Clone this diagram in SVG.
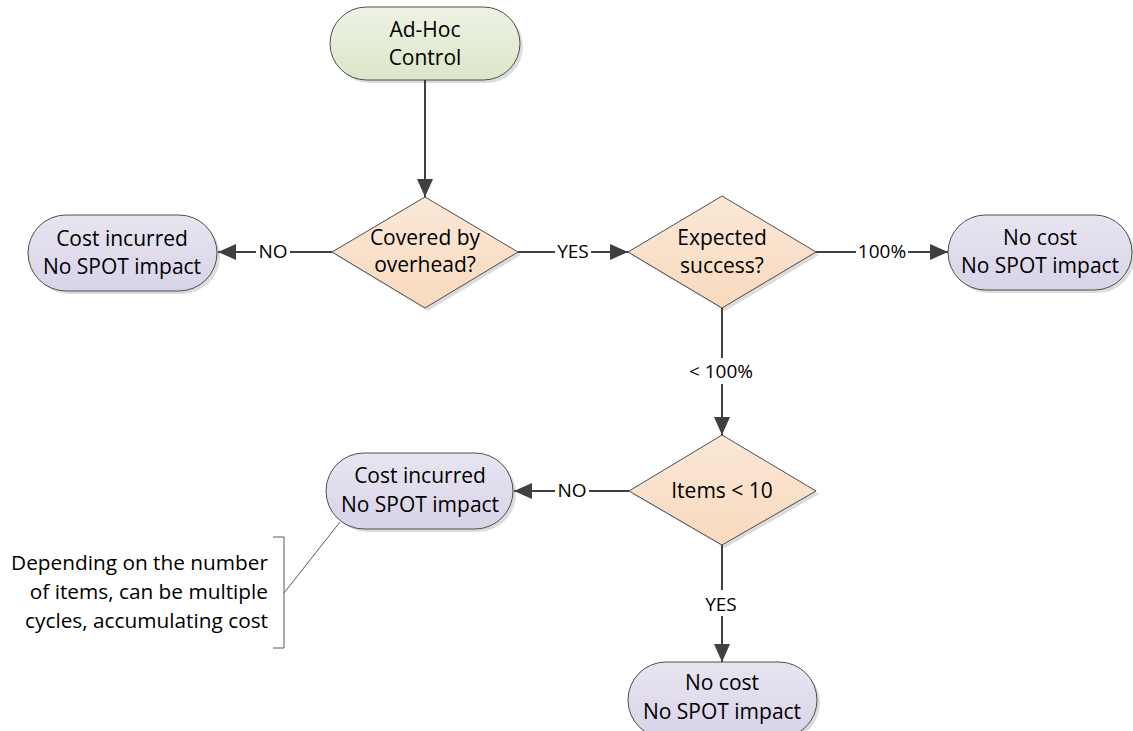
<svg xmlns="http://www.w3.org/2000/svg" width="1133" height="731" viewBox="0 0 1133 731">
<defs>
<linearGradient id="gGreen" x1="0" y1="0" x2="0" y2="1"><stop offset="0" stop-color="#eef3e4"/><stop offset="1" stop-color="#dbe6c9"/></linearGradient>
<linearGradient id="gPeach" x1="0" y1="0" x2="0" y2="1"><stop offset="0" stop-color="#fbe8d8"/><stop offset="1" stop-color="#f8d9bd"/></linearGradient>
<linearGradient id="gPurple" x1="0" y1="0" x2="0" y2="1"><stop offset="0" stop-color="#e8e5f1"/><stop offset="1" stop-color="#d8d3e8"/></linearGradient>
<marker id="arr" viewBox="0 0 18 16" refX="18" refY="8" markerWidth="18" markerHeight="16" markerUnits="userSpaceOnUse" orient="auto"><path d="M0,0 L18,8 L0,16 Z" fill="#404040"/></marker>
</defs>
<style>
.sh{fill:#dcdcdc;stroke:none}
.term{stroke:#4d4d4d;stroke-width:1}
.dia{fill:url(#gPeach);stroke:#4d4d4d;stroke-width:1}
.t{font-family:"Open Sans","Liberation Sans",sans-serif;font-size:21px;fill:#000;text-anchor:middle}
.lbl{font-family:"Open Sans","Liberation Sans",sans-serif;font-size:19px;fill:#000;text-anchor:middle}
.note{font-family:"Open Sans","Liberation Sans",sans-serif;font-size:20.8px;fill:#000;text-anchor:end}
.c{stroke:#404040;stroke-width:2;fill:none}
.bg{fill:#fff;stroke:none}
</style>
<rect width="1133" height="731" fill="#fff"/>

<g id="adhoc">
<rect class="sh" x="333" y="10" width="190" height="73" rx="36.5"/>
<rect class="term" x="330" y="7" width="190" height="73" rx="36.5" fill="url(#gGreen)"/>
<text class="t" x="425" y="37">Ad-Hoc</text>
<text class="t" x="425" y="65">Control</text>
</g>

<g id="covered">
<polygon class="sh" points="428,200 521,255 428,311 335,255"/>
<polygon class="dia" points="425,197 518,252 425,308 332,252"/>
<text class="t" x="425" y="245">Covered by</text>
<text class="t" x="425" y="272">overhead?</text>
</g>

<g id="cost1">
<rect class="sh" x="31" y="218" width="189" height="76" rx="38"/>
<rect class="term" x="28" y="215" width="189" height="76" rx="38" fill="url(#gPurple)"/>
<text class="t" x="122" y="246">Cost incurred</text>
<text class="t" x="122" y="274">No SPOT impact</text>
</g>

<g id="expected">
<polygon class="sh" points="725,199 819,255 725,311 631,255"/>
<polygon class="dia" points="722,196 816,252 722,308 628,252"/>
<text class="t" x="722" y="245">Expected</text>
<text class="t" x="722" y="273">success?</text>
</g>

<g id="nocost1">
<rect class="sh" x="951" y="218" width="184" height="75" rx="37.5"/>
<rect class="term" x="948" y="215" width="184" height="75" rx="37.5" fill="url(#gPurple)"/>
<text class="t" x="1040" y="245">No cost</text>
<text class="t" x="1040" y="273">No SPOT impact</text>
</g>

<g id="items">
<polygon class="sh" points="725,438 819,494 725,548 632,494"/>
<polygon class="dia" points="722,435 816,491 722,545 629,491"/>
<text class="t" x="722" y="498">Items &lt; 10</text>
</g>

<g id="cost2">
<rect class="sh" x="329" y="456" width="187" height="76" rx="38"/>
<rect class="term" x="326" y="453" width="187" height="76" rx="38" fill="url(#gPurple)"/>
<text class="t" x="420" y="483">Cost incurred</text>
<text class="t" x="420" y="512">No SPOT impact</text>
</g>

<g id="nocost2">
<rect class="sh" x="631" y="665" width="189" height="76" rx="38"/>
<rect class="term" x="628" y="662" width="189" height="76" rx="38" fill="url(#gPurple)"/>
<text class="t" x="722" y="690">No cost</text>
<text class="t" x="722" y="719">No SPOT impact</text>
</g>

<g id="connectors">
<line class="c" x1="425" y1="80" x2="425" y2="197" marker-end="url(#arr)"/>
<line class="c" x1="332" y1="252" x2="218" y2="252" marker-end="url(#arr)"/>
<rect class="bg" x="256" y="240" width="34" height="24"/>
<text class="lbl" x="273" y="258">NO</text>
<line class="c" x1="518" y1="252" x2="628" y2="252" marker-end="url(#arr)"/>
<rect class="bg" x="555" y="240" width="36" height="24"/>
<text class="lbl" x="573" y="258">YES</text>
<line class="c" x1="816" y1="252" x2="948" y2="252" marker-end="url(#arr)"/>
<rect class="bg" x="856" y="240" width="52" height="24"/>
<text class="lbl" x="882" y="258">100%</text>
<line class="c" x1="722" y1="308" x2="722" y2="435" marker-end="url(#arr)"/>
<rect class="bg" x="686" y="358" width="72" height="26"/>
<text class="lbl" x="721" y="378">&lt; 100%</text>
<line class="c" x1="629" y1="491" x2="514" y2="491" marker-end="url(#arr)"/>
<rect class="bg" x="555" y="479" width="34" height="24"/>
<text class="lbl" x="572" y="497">NO</text>
<line class="c" x1="722" y1="545" x2="722" y2="662" marker-end="url(#arr)"/>
<rect class="bg" x="701" y="590" width="40" height="26"/>
<text class="lbl" x="721" y="611">YES</text>
</g>

<g id="annotation">
<path d="M273,537 H284 V648 H273" fill="none" stroke="#595959" stroke-width="1"/>
<line x1="284" y1="593" x2="340" y2="522" stroke="#595959" stroke-width="1"/>
<text class="note" x="268" y="570">Depending on the number</text>
<text class="note" x="268" y="599">of items, can be multiple</text>
<text class="note" x="268" y="628">cycles, accumulating cost</text>
</g>
</svg>
